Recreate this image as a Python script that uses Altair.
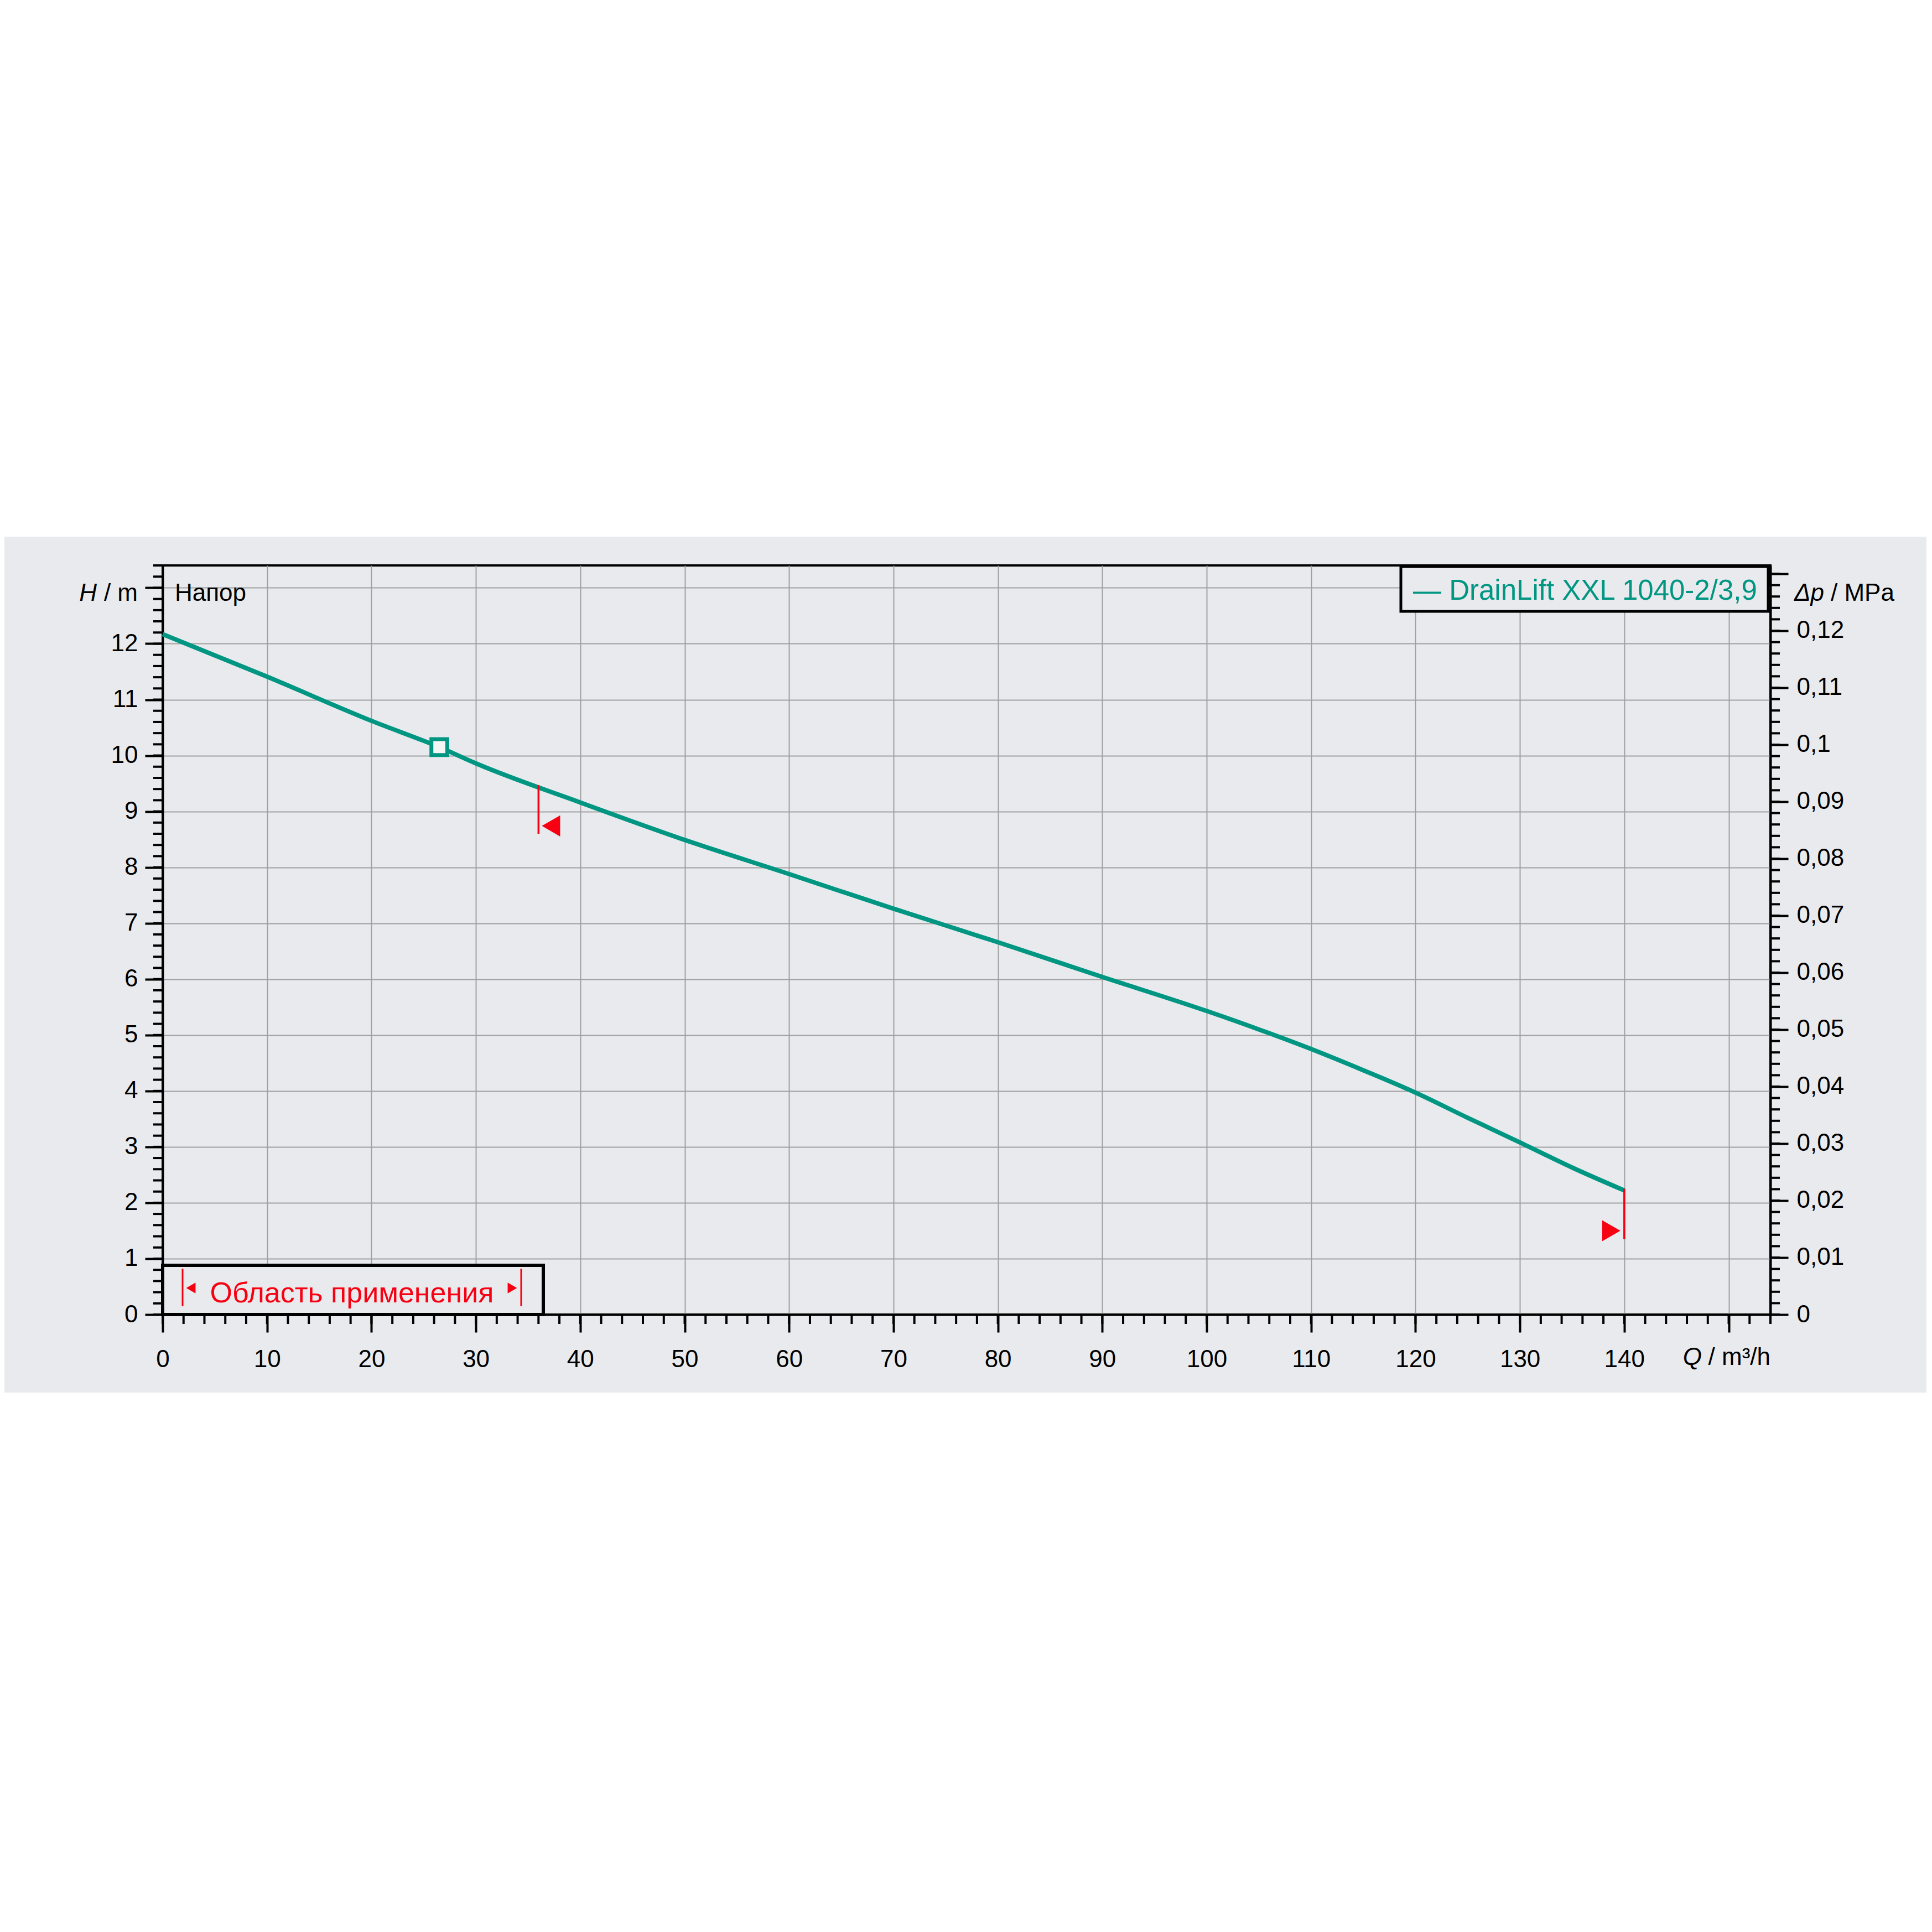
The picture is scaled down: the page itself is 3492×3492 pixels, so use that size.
import altair as alt
import pandas as pd

# ---------------- data ----------------
Q = [0, 10, 20, 26.5, 30, 40, 50, 60, 70, 80, 90, 100, 105, 110, 115, 120, 125, 130, 135, 140]
H = [12.17, 11.41, 10.62, 10.15, 9.86, 9.16, 8.49, 7.88, 7.26, 6.66, 6.04, 5.43, 5.10, 4.75,
     4.37, 3.97, 3.52, 3.08, 2.63, 2.22]
duty_Q = [26.5]
duty_H = [10.15]
limit_Q = [36, 140]
limit_top = [9.47, 2.25]
limit_bottom = [8.6, 1.35]
flag_left_Q, flag_left_H = [37.2], [8.74]
flag_right_Q, flag_right_H = [138.75], [1.5]

x_major = [0, 10, 20, 30, 40, 50, 60, 70, 80, 90, 100, 110, 120, 130, 140, 150]
x_minor = [2 * i for i in range(0, 78)]             # 0 .. 154
y_major = [0, 1, 2, 3, 4, 5, 6, 7, 8, 9, 10, 11, 12, 13]
y_minor = [round(0.2 * i, 1) for i in range(0, 68)]  # 0 .. 13.4
p_major = [0, 0.01, 0.02, 0.03, 0.04, 0.05, 0.06, 0.07, 0.08, 0.09, 0.1, 0.11, 0.12, 0.13]
p_minor = [round(0.002 * i, 3) for i in range(0, 66)]
RHO_G = 0.00981       # MPa per metre of head
Q_MAX = 154
H_MAX = 13.4

legend_text = "— DrainLift XXL 1040-2/3,9"
range_text = "Область применения"

# ---------------- style / layout ----------------
FONT = "Liberation Sans"
TEAL = "#009682"
RED = "#f70012"
BG = "#e9eaed"
GRID = "#a0a0a0"
W, HT = 2906, 1354
PAD_L, PAD_T, PAD_R, PAD_B = 286, 1014, 282, 1000
MAJ, MIN = 32, 17


def xs():
    return alt.Scale(domain=[0, Q_MAX], nice=False, zero=False)


def ys():
    return alt.Scale(domain=[0, H_MAX], nice=False, zero=False)


def x_axis():
    return alt.Axis(values=x_major, labelExpr="datum.value >= 150 ? '' : datum.label", format="d",
                    orient="bottom",
                    tickSize=MAJ, tickWidth=4, tickColor="black", domainColor="black", domainWidth=4,
                    labelFontSize=44, labelFont=FONT, labelColor="black", labelPadding=27,
                    labelFlush=False, labelOverlap=False, labelBound=False,
                    grid=True, gridColor=GRID, gridWidth=2, title=None)


def X(field):
    return alt.X(field, scale=xs(), axis=x_axis())


curve_df = pd.DataFrame({"Q": Q, "H": H})
one = pd.DataFrame({"a": [0]})

y_axis = alt.Axis(values=y_major, labelExpr="datum.value >= 13 ? '' : datum.label", format="d",
                  orient="left",
                  tickSize=MAJ, tickWidth=4, tickColor="black", domainColor="black", domainWidth=4,
                  labelFontSize=44, labelFont=FONT, labelColor="black", labelPadding=13,
                  labelFlush=False, labelOverlap=False, labelBound=False,
                  grid=True, gridColor=GRID, gridWidth=2, title=None)
p_axis = alt.Axis(orient="right", values=p_major,
                  labelExpr="datum.value >= 0.1295 ? '' : replace(format(datum.value, '.2~f'), '.', ',')",
                  tickSize=MAJ, tickWidth=4, tickColor="black", domainColor="black",
                  domainWidth=4, labelFontSize=44, labelFont=FONT, labelColor="black",
                  labelPadding=15, labelFlush=False, labelOverlap=False, labelBound=False,
                  grid=False, title=None)

layers = []

# white page above / below the grey band
layers.append(alt.Chart(one).mark_rect(color="white").encode(
    x=alt.value(-PAD_L), x2=alt.value(W + PAD_R), y=alt.value(-PAD_T), y2=alt.value(-52)))
layers.append(alt.Chart(one).mark_rect(color="white").encode(
    x=alt.value(-PAD_L), x2=alt.value(W + PAD_R), y=alt.value(1495), y2=alt.value(HT + PAD_B)))

# pump curve (carries the bottom and left axes)
layers.append(alt.Chart(curve_df).mark_line(color=TEAL, strokeWidth=8, interpolate="monotone").encode(
    x=X("Q:Q"),
    y=alt.Y("H:Q", scale=ys(), axis=y_axis)))

# right pressure axis
layers.append(alt.Chart(pd.DataFrame({"p": p_major})).mark_point(opacity=0).encode(
    x=alt.value(0),
    y=alt.Y("p:Q", scale=alt.Scale(domain=[0, H_MAX * RHO_G], nice=False, zero=False), axis=p_axis)))

# minor ticks
layers.append(alt.Chart(pd.DataFrame({"v": y_minor})).mark_rule(color="black", strokeWidth=4).encode(
    y=alt.Y("v:Q", scale=ys(), axis=None), x=alt.value(-MIN), x2=alt.value(0)))
layers.append(alt.Chart(pd.DataFrame({"v": [p / RHO_G for p in p_minor]})).mark_rule(
    color="black", strokeWidth=4).encode(
    y=alt.Y("v:Q", scale=ys(), axis=None), x=alt.value(W), x2=alt.value(W + MIN)))
layers.append(alt.Chart(pd.DataFrame({"v": x_minor})).mark_rule(color="black", strokeWidth=4).encode(
    x=X("v:Q"), y=alt.value(HT), y2=alt.value(HT + MIN)))

# limits of the working range
layers.append(alt.Chart(pd.DataFrame({"Q": limit_Q, "top": limit_top, "bot": limit_bottom})).mark_rule(
    color=RED, strokeWidth=3.5
).encode(x=X("Q:Q"), y=alt.Y("top:Q", scale=ys(), axis=None), y2="bot:Q"))
layers.append(alt.Chart(pd.DataFrame({"Q": flag_left_Q, "H": flag_left_H})).mark_point(
    shape="triangle-left", filled=True, color=RED, size=1450, opacity=1
).encode(x=X("Q:Q"), y=alt.Y("H:Q", scale=ys(), axis=None)))
layers.append(alt.Chart(pd.DataFrame({"Q": flag_right_Q, "H": flag_right_H})).mark_point(
    shape="triangle-right", filled=True, color=RED, size=1450, opacity=1
).encode(x=X("Q:Q"), y=alt.Y("H:Q", scale=ys(), axis=None)))

# duty point
layers.append(alt.Chart(pd.DataFrame({"Q": duty_Q, "H": duty_H})).mark_point(
    shape="square", size=820, fill="#f4f5f5", fillOpacity=1, stroke=TEAL, strokeWidth=7, opacity=1
).encode(x=X("Q:Q"), y=alt.Y("H:Q", scale=ys(), axis=None)))

# legend box (top right)
layers.append(alt.Chart(one).mark_rect(fill=BG, stroke="black", strokeWidth=5).encode(
    x=alt.value(2238), x2=alt.value(2902), y=alt.value(2), y2=alt.value(83)))
layers.append(alt.Chart(one).mark_text(align="left", baseline="middle", fontSize=51, font=FONT,
                                       color=TEAL).encode(
    x=alt.value(2260), y=alt.value(47), text=alt.value(legend_text)))

# application range box (bottom left)
layers.append(alt.Chart(one).mark_rect(fill=BG, stroke="black", strokeWidth=6).encode(
    x=alt.value(0), x2=alt.value(688), y=alt.value(1265), y2=alt.value(HT)))
for px in (36, 648):
    layers.append(alt.Chart(one).mark_rule(color=RED, strokeWidth=3).encode(
        x=alt.value(px), y=alt.value(1271), y2=alt.value(1339)))
layers.append(alt.Chart(one).mark_point(shape="triangle-left", filled=True, color=RED, size=380,
                                        opacity=1).encode(x=alt.value(51), y=alt.value(1306)))
layers.append(alt.Chart(one).mark_point(shape="triangle-right", filled=True, color=RED, size=380,
                                        opacity=1).encode(x=alt.value(632), y=alt.value(1306)))
layers.append(alt.Chart(one).mark_text(align="center", baseline="middle", fontSize=52, font=FONT,
                                       color=RED).encode(
    x=alt.value(342), y=alt.value(1316), text=alt.value(range_text)))


# axis captions
def txt(s, x, y, align, italic=False, size=44):
    return alt.Chart(one).mark_text(align=align, baseline="middle", fontSize=size, font=FONT,
                                    fontStyle="italic" if italic else "normal", color="black").encode(
        x=alt.value(x), y=alt.value(y), text=alt.value(s))


layers += [
    txt("Напор", 22, 51, "left"),
    txt("H", -119, 51, "right", italic=True),
    txt("/ m", -45, 51, "right"),
    txt("Δp", 2949, 51, "left", italic=True),
    txt("/ MPa", 3015, 51, "left"),
    txt("Q", 2782, 1432, "right", italic=True),
    txt("/ m³/h", W, 1432, "right"),
]

chart = alt.layer(*layers).resolve_scale(y="independent").properties(
    width=W, height=HT,
    autosize=alt.AutoSizeParams(type="none"),
    padding={"left": PAD_L, "top": PAD_T, "right": PAD_R, "bottom": PAD_B},
    background=BG,
).configure(font=FONT).configure_view(stroke="black", strokeWidth=4)

chart.save("out.html", embed_options={"renderer": "svg", "actions": False})
